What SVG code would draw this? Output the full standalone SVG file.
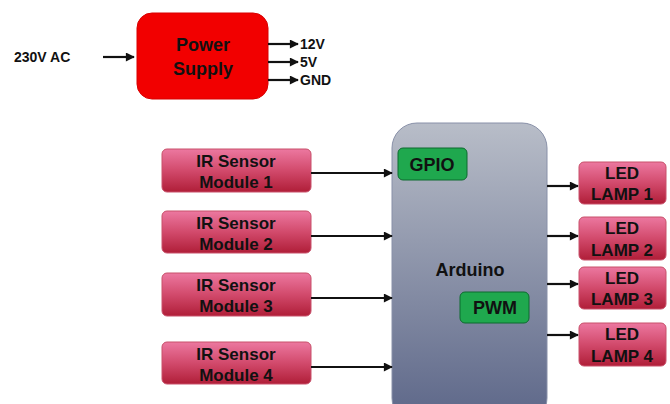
<svg xmlns="http://www.w3.org/2000/svg" width="670" height="404" viewBox="0 0 670 404">
<defs>
<linearGradient id="pink" x1="0" y1="0" x2="0" y2="1">
<stop offset="0" stop-color="#ec78a0"/>
<stop offset="0.5" stop-color="#d24a6c"/>
<stop offset="1" stop-color="#b01e38"/>
</linearGradient>
<linearGradient id="ard" x1="0" y1="0" x2="0" y2="1">
<stop offset="0" stop-color="#b8bdc8"/>
<stop offset="1" stop-color="#5c6688"/>
</linearGradient>
<marker id="ah" viewBox="0 0 10 10" refX="9" refY="5" markerWidth="10" markerHeight="9" markerUnits="userSpaceOnUse" orient="auto">
<path d="M0,0 L10,5 L0,10 z" fill="#111"/>
</marker>
<style>
.t{font-family:"Liberation Sans",Arial,sans-serif;font-weight:bold;fill:#111}
.c{text-anchor:middle;font-size:17px}
.b{font-size:18px}
.s{font-size:14px}
.pk{fill:url(#pink);stroke:#c8506a;stroke-width:1}
.gr{fill:#1fa84e;stroke:#0d6b2e;stroke-width:1}
.ln{stroke:#111;stroke-width:2.2;fill:none;marker-end:url(#ah)}
</style>
</defs>
<g id="input"><text class="t s" x="14" y="62">230V AC</text></g>
<g id="power"><rect x="137" y="13" width="131" height="86" rx="15" fill="#f20000" stroke="#d80000"/>
<text class="t c b" x="203" y="51">Power</text><text class="t c b" x="203" y="75">Supply</text></g>
<g id="outputs"><text class="t s" x="300" y="49">12V</text><text class="t s" x="300" y="67">5V</text><text class="t s" x="300" y="85">GND</text></g>
<g id="ir1"><rect class="pk" x="162" y="149" width="149" height="43" rx="5"/><text class="t c" x="236" y="167">IR Sensor</text><text class="t c" x="236" y="188">Module 1</text></g>
<g id="ir2"><rect class="pk" x="162" y="211" width="149" height="42" rx="5"/><text class="t c" x="236" y="229">IR Sensor</text><text class="t c" x="236" y="250">Module 2</text></g>
<g id="ir3"><rect class="pk" x="162" y="273" width="149" height="43" rx="5"/><text class="t c" x="236" y="291">IR Sensor</text><text class="t c" x="236" y="312">Module 3</text></g>
<g id="ir4"><rect class="pk" x="162" y="342" width="149" height="42" rx="5"/><text class="t c" x="236" y="360">IR Sensor</text><text class="t c" x="236" y="381">Module 4</text></g>
<g id="arduino"><rect x="392" y="123" width="155" height="300" rx="25" fill="url(#ard)" stroke="#8890a8"/>
<text class="t c b" x="470" y="276">Arduino</text>
<rect class="gr" x="398" y="148" width="69" height="32" rx="5"/><text class="t c b" x="432" y="171">GPIO</text>
<rect class="gr" x="460" y="292" width="69" height="31" rx="5"/><text class="t c b" x="495" y="314">PWM</text></g>
<g id="led1"><rect class="pk" x="579" y="162" width="87" height="42" rx="5"/><text class="t c" x="622" y="179">LED</text><text class="t c" x="622" y="200">LAMP 1</text></g>
<g id="led2"><rect class="pk" x="579" y="217" width="87" height="43" rx="5"/><text class="t c" x="622" y="234">LED</text><text class="t c" x="622" y="256">LAMP 2</text></g>
<g id="led3"><rect class="pk" x="579" y="267" width="87" height="42" rx="5"/><text class="t c" x="622" y="284">LED</text><text class="t c" x="622" y="305">LAMP 3</text></g>
<g id="led4"><rect class="pk" x="579" y="323" width="87" height="43" rx="5"/><text class="t c" x="622" y="340">LED</text><text class="t c" x="622" y="362">LAMP 4</text></g>
<g id="connectors">
<line class="ln" x1="103" y1="57" x2="134" y2="57"/>
<line class="ln" x1="268" y1="44" x2="298" y2="44"/>
<line class="ln" x1="268" y1="62" x2="298" y2="62"/>
<line class="ln" x1="268" y1="80" x2="298" y2="80"/>
<line class="ln" x1="311" y1="173" x2="392" y2="173"/>
<line class="ln" x1="311" y1="236" x2="392" y2="236"/>
<line class="ln" x1="311" y1="298" x2="392" y2="298"/>
<line class="ln" x1="311" y1="367" x2="392" y2="367"/>
<line class="ln" x1="547" y1="186" x2="578" y2="186"/>
<line class="ln" x1="547" y1="236" x2="578" y2="236"/>
<line class="ln" x1="547" y1="284" x2="578" y2="284"/>
<line class="ln" x1="547" y1="335" x2="578" y2="335"/>
</g>
</svg>
